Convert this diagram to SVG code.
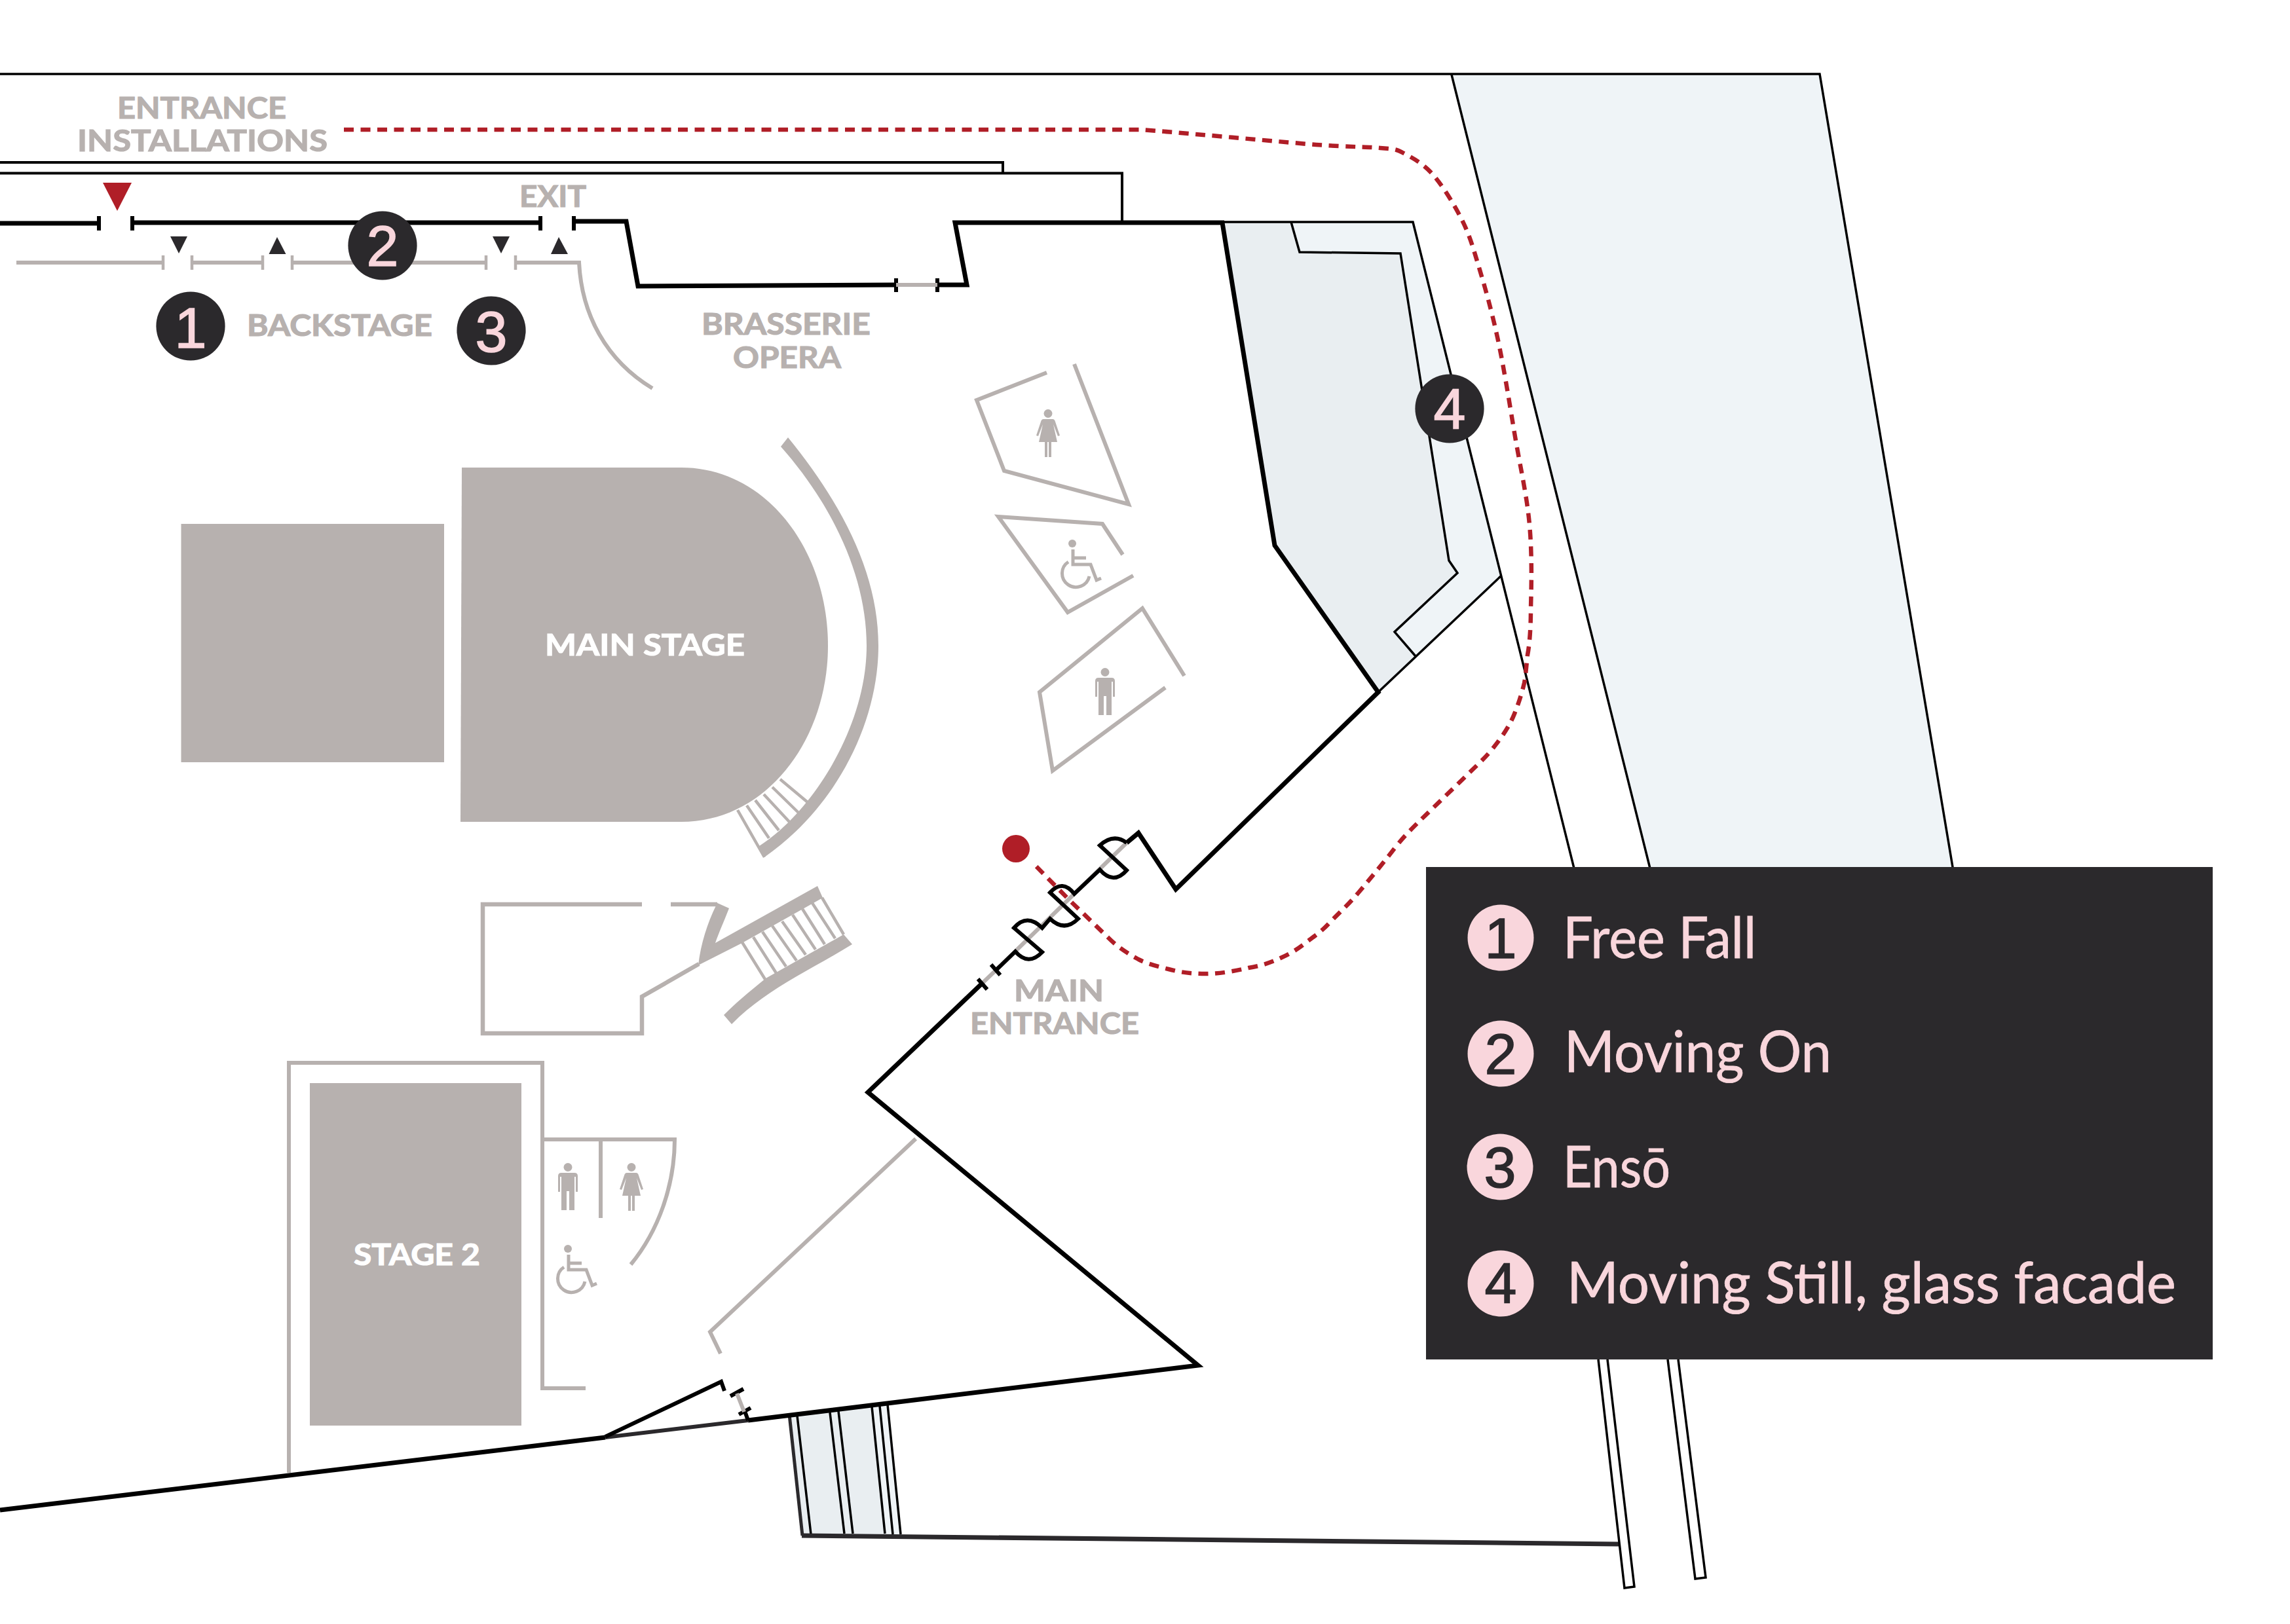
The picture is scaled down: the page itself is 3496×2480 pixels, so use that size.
<svg xmlns="http://www.w3.org/2000/svg" width="3496" height="2480" viewBox="0 0 3496 2480">
<style>
.g{fill:#b7b1af}
.gs{fill:none;stroke:#b7b1af;stroke-width:6}
.gt{fill:none;stroke:#b7b1af;stroke-width:4.5}
.k{fill:none;stroke:#000;stroke-width:7}
.kt{fill:none;stroke:#000;stroke-width:3.5}
.kh{fill:none;stroke:#000;stroke-width:6}
.d{fill:none;stroke:#2b292c;stroke-width:5}
.lbl{font-family:"Lato","Liberation Sans",sans-serif;font-weight:700;font-size:46px;fill:#b7b1af;stroke:#b7b1af;stroke-width:1.2}
.wht{font-family:"Lato","Liberation Sans",sans-serif;font-weight:700;font-size:46px;fill:#fff;stroke:#fff;stroke-width:1.2}
.leg{font-family:"Lato","Liberation Sans",sans-serif;font-weight:400;font-size:88px;fill:#f9d6dc;stroke:#f9d6dc;stroke-width:.8}
.num{font-family:"Liberation Sans",Arial,sans-serif;font-weight:400;font-size:88px;text-anchor:middle;stroke-width:1.5}
.pk{fill:#f9d6dc;stroke:#f9d6dc}
.dk{fill:#2b292c;stroke:#2b292c}
.red{fill:#b01e27}
</style>
<defs>
<g id="man" class="g">
<circle cx="0" cy="6.5" r="6.5"/>
<path d="M-15,20Q-15,15 -10,15H10Q15,15 15,20V44H12V21H10V72H2V43H-2V72H-10V21H-12V44H-15Z"/>
</g>
<g id="woman" class="g">
<circle cx="0" cy="6.5" r="6.5"/>
<path d="M-7,15H7Q10,15 11,19L18,40L15,41L8,23L14,50H5V73H1V50H-1V73H-5V50H-14L-8,23L-15,41L-18,40L-11,19Q-10,15 -7,15Z"/>
</g>
<g id="wheel">
<circle class="g" cx="16" cy="6" r="6"/>
<path class="gs" style="stroke-width:5" d="M17,15V38H44L53,62L60,59M17,28H37M10,34A21,21 0 1 0 42,56"/>
</g>
</defs>

<rect width="3496" height="2480" fill="#fff"/>

<g id="glass-band">
<polygon points="2216,114 2778,114 2982,1330 2520,1330" fill="#eff4f7"/>
<path class="kt" d="M0,113H2778L2982,1330M2216,114L2520,1330"/>
</g>

<g id="upper-lines">
<path class="kh" style="stroke-width:4" d="M0,248H1531V265M0,264.5H1713V339"/>
</g>

<g id="facade">
<polygon points="1971,339 2157,337 2292,879 2161,1002 2129,965 2225,875 2212,856 2138,387 1984,385" fill="#eff4f7"/>
<polygon points="1866,339 1971,339 1984,385 2138,387 2212,856 2225,875 2129,965 2161,1002 2104,1057 1946,833" fill="#e9eef1"/>
<path class="kt" d="M1971,339L1984,385L2138,387L2212,856L2225,875L2129,965L2161,1002M1866,339H2157L2404,1330M2292,879L2104,1057"/>
</g>

<g id="bottom-stripes">
<polygon points="1205,2163 1355,2145 1375,2343 1224,2345" fill="#e9eef1"/>
<polygon points="1331,2148 1355,2145 1375,2343 1351,2342" fill="#eff4f7"/>
<path class="kt" d="M1217,2162L1238,2343M1267,2157L1289,2342M1280,2155L1302,2342M1331,2148L1351,2342M1343,2147L1363,2343M1355,2145L1375,2343"/>
<path class="d" d="M1205,2160L1225,2345"/>
<path class="d" style="stroke-width:7" d="M1224,2345L2472,2358"/>
</g>

<g id="slats">
<path class="kt" d="M2440,2076L2480,2425L2495,2423L2454,2076M2546,2076L2588,2411L2604,2409L2562,2076"/>
</g>

<g id="walls">
<path class="k" d="M0,341H151M202,340H825M876,338H956L974,437L1368,435M1431,435H1476L1458,340H1866L1946,833L2104,1057L1795,1358L1738,1272L1720,1287"/>
<path class="kh" d="M151,330V352M202,330V352M825,330V352M876,330V352M1368,425V446M1431,425V446"/>
<path class="gs" d="M1368,435H1431"/>
<path class="gs" d="M1720,1287L1522,1480M1522,1480L1499,1502"/>
<path class="kh" d="M1720,1287Q1700,1272 1679,1291L1720,1329Q1700,1352 1679,1328L1640,1365Q1622,1342 1603,1363L1646,1403Q1625,1424 1603,1403L1591,1417Q1568,1394 1548,1417L1591,1454Q1570,1476 1550,1453L1522,1480M1513,1473L1527,1489M1493,1495L1507,1511"/>
<path class="k" d="M1499,1502L1325,1668L1829,2085L1142,2169"/>
<path class="d" style="stroke-width:6" d="M1142,2169L924,2195"/>
<path class="k" d="M924,2195L0,2306"/>
<path class="kh" style="stroke-width:6" d="M924,2194L1101,2110L1106,2124M1115,2132L1135,2121M1128,2160L1146,2150M1137,2155L1142,2169"/>
<path class="gs" d="M1125,2128L1136,2156"/>
</g>

<g id="backstage-line">
<path class="gs" d="M25,401H249M293,401H401M446,401H742M787,401H884C888,480 925,550 996,593"/>
<path class="gt" d="M249,390V412M293,390V412M401,390V412M446,390V412M742,390V412M787,390V412"/>
<polygon fill="#2b292c" points="260,361 286,361 273,387"/>
<polygon fill="#2b292c" points="423,362 410.5,388 436.5,388"/>
<polygon fill="#2b292c" points="752,361 778,361 765,387"/>
<polygon fill="#2b292c" points="853,362 841,388 867,388"/>
<polygon class="red" points="157,279 201,279 179,322"/>
</g>

<g id="main-stage">
<rect class="g" x="276.5" y="800" width="401.5" height="364"/>
<path class="g" d="M705,714H1040C1170,714 1264,840 1264,986C1264,1130 1170,1255 1040,1255H703Z"/>
<path class="g" d="M1192,682L1203,668C1290,775 1341,880 1341,986C1341,1100 1280,1230 1167,1309L1159,1292C1240,1240 1323,1110 1323,986C1323,880 1270,770 1192,682Z"/>
<path class="gt" d="M1126,1237L1167,1309M1140,1230L1174,1280M1153,1222L1189,1268M1166,1213L1205,1255M1179,1202L1220,1242M1191,1190L1234,1226"/>
<text class="wht" x="832" y="1001" textLength="305" lengthAdjust="spacingAndGlyphs">MAIN STAGE</text>
</g>

<g id="lower-room">
<path class="gs" d="M980,1381H737V1578H980V1522L1067,1472M1024,1381H1095" style="stroke-width:6.5"/>
<path class="g" d="M1093,1378L1113,1387C1104,1410 1097,1425 1092,1440L1248,1353L1256,1371L1133,1440L1066,1474C1070,1440 1080,1410 1093,1383Z"/>
<path class="g" d="M1288,1427L1301,1442C1240,1480 1170,1510 1117,1564L1105,1550C1130,1525 1150,1510 1169,1494Z"/>
<path class="gt" d="M1133,1439L1169,1497M1150,1431L1185,1486M1164,1423L1200,1476M1179,1414L1216,1467M1194,1407L1230,1458M1210,1397L1245,1450M1225,1388L1259,1442M1240,1379L1275,1433M1255,1371L1288,1427"/>
</g>

<g id="stage-2">
<path class="gs" d="M441,2249V1623H828V2120H894M828,1740H1030C1030,1810 1005,1880 963,1931M917,1740V1860"/>
<rect class="g" x="473" y="1654" width="323" height="523"/>
<text class="wht" x="540" y="1932" textLength="193" lengthAdjust="spacingAndGlyphs">STAGE 2</text>
<use href="#man" x="867" y="1776"/>
<use href="#woman" x="964" y="1776"/>
<use href="#wheel" x="851" y="1901"/>
</g>

<g id="lobby-line">
<path class="gs" d="M1398,1739L1084,2034L1100,2067"/>
</g>

<g id="restrooms">
<path class="gs" d="M1598,569L1491,611L1533,719L1723,770L1640,556"/>
<path class="gs" d="M1714,847L1683,800L1524,789L1630,935L1730,879"/>
<path class="gs" d="M1808,1032L1744,929L1587,1057L1607,1177L1779,1050"/>
<use href="#woman" x="1600" y="625"/>
<use href="#wheel" x="1621" y="824"/>
<use href="#man" x="1687" y="1020"/>
</g>

<g id="route">
<path fill="none" stroke="#b01e27" stroke-width="6.5" stroke-dasharray="15 10.5" d="M525,198H1741C1786,201 1948,216 2009,221C2070,225 2085,224 2107,226C2129,228 2130,227 2143,234C2156,241 2172,249 2187,266C2202,283 2220,312 2232,336C2244,360 2250,382 2259,412C2268,442 2277,474 2286,515C2295,556 2304,613 2312,661C2320,709 2331,756 2335,801C2339,846 2338,892 2337,929C2337,960 2335,985 2332,1000C2330,1020 2329,1033 2327,1043C2323,1060 2318,1075 2312,1090C2304,1110 2293,1125 2279,1143C2265,1160 2250,1173 2233,1190L2171,1250C2158,1263 2145,1275 2131,1293C2110,1320 2095,1338 2074,1363C2058,1382 2045,1393 2029,1410C2018,1422 2006,1430 1993,1440C1982,1449 1970,1456 1957,1462C1940,1470 1925,1475 1906,1478C1885,1483 1862,1487 1840,1487C1820,1487 1802,1485 1784,1480C1768,1476 1752,1472 1738,1465C1722,1456 1708,1448 1692,1432L1631,1373L1577,1318"/>
<circle class="red" cx="1551" cy="1296" r="21"/>
</g>

<g id="labels">
<text class="lbl" x="179" y="181" textLength="258" lengthAdjust="spacingAndGlyphs">ENTRANCE</text>
<text class="lbl" x="118" y="231" textLength="382" lengthAdjust="spacingAndGlyphs">INSTALLATIONS</text>
<text class="lbl" x="793" y="316" textLength="102" lengthAdjust="spacingAndGlyphs">EXIT</text>
<text class="lbl" x="377" y="513" textLength="283" lengthAdjust="spacingAndGlyphs">BACKSTAGE</text>
<text class="lbl" x="1071" y="511" textLength="258" lengthAdjust="spacingAndGlyphs">BRASSERIE</text>
<text class="lbl" x="1119" y="562" textLength="165" lengthAdjust="spacingAndGlyphs">OPERA</text>
<text class="lbl" x="1548" y="1529" textLength="137" lengthAdjust="spacingAndGlyphs">MAIN</text>
<text class="lbl" x="1481" y="1579" textLength="258" lengthAdjust="spacingAndGlyphs">ENTRANCE</text>
</g>

<g id="marker-1"><circle cx="291" cy="498" r="52.6" fill="#2b292c"/><text class="num pk" x="291" y="531">1</text></g>
<g id="marker-2"><circle cx="584" cy="375" r="52.6" fill="#2b292c"/><text class="num pk" x="584" y="406">2</text></g>
<g id="marker-3"><circle cx="750" cy="505" r="52.6" fill="#2b292c"/><text class="num pk" x="750" y="537">3</text></g>
<g id="marker-4"><circle cx="2213" cy="624" r="52.6" fill="#2b292c"/><text class="num pk" x="2213" y="655">4</text></g>

<g id="legend">
<rect x="2177" y="1324" width="1201" height="752" fill="#2b292c"/>
<circle cx="2291" cy="1432" r="50.5" fill="#f9d6dc"/><text class="num dk" x="2291" y="1463">1</text>
<circle cx="2291" cy="1609" r="50.5" fill="#f9d6dc"/><text class="num dk" x="2291" y="1640">2</text>
<circle cx="2290" cy="1782" r="50.5" fill="#f9d6dc"/><text class="num dk" x="2290" y="1813">3</text>
<circle cx="2291" cy="1960" r="50.5" fill="#f9d6dc"/><text class="num dk" x="2291" y="1990">4</text>
<text class="leg" x="2386" y="1463" textLength="295" lengthAdjust="spacingAndGlyphs">Free Fall</text>
<text class="leg" x="2388" y="1637" textLength="408" lengthAdjust="spacingAndGlyphs">Moving On</text>
<text class="leg" x="2386" y="1813" textLength="164" lengthAdjust="spacingAndGlyphs">Ensō</text>
<text class="leg" x="2392" y="1990" textLength="930" lengthAdjust="spacingAndGlyphs">Moving Still, glass facade</text>
</g>
</svg>
